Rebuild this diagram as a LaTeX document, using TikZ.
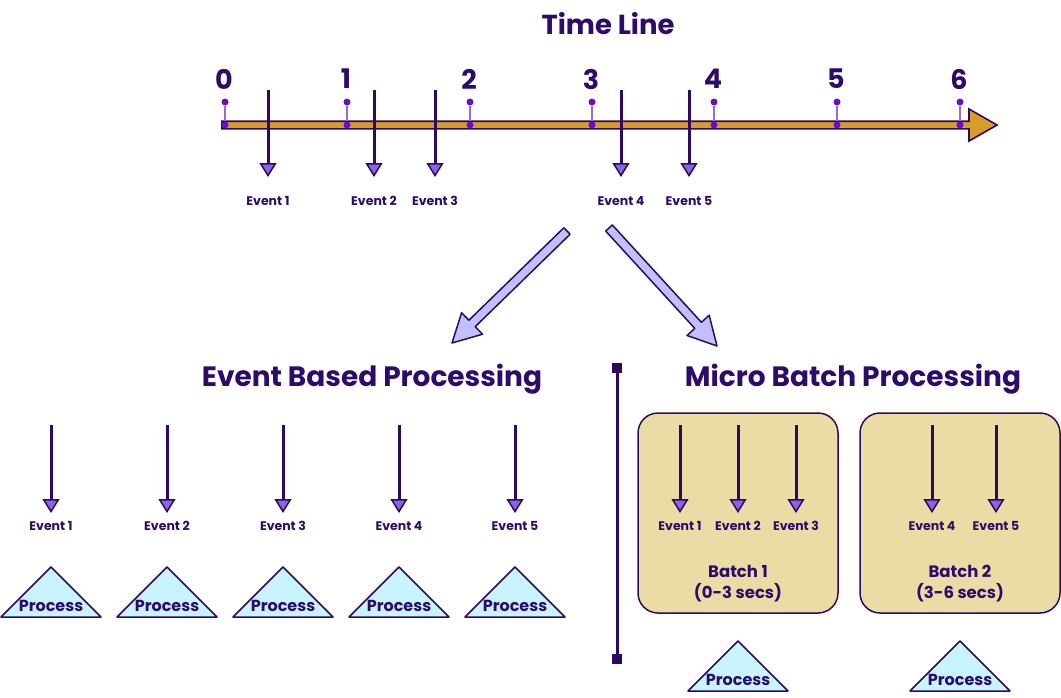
\documentclass[tikz,border=0pt]{standalone}
\usepackage{fontspec}
\setmainfont{Poppins}
\usetikzlibrary{arrows.meta,calc}
\definecolor{dk}{HTML}{2E0A5E}
\definecolor{txt}{HTML}{2D0B6B}
\definecolor{evp}{HTML}{8466E6}
\definecolor{dotc}{HTML}{6A0DC8}
\definecolor{stemc}{HTML}{9A6ADB}
\definecolor{barc}{HTML}{D89B2C}
\definecolor{lav}{HTML}{C0C0FF}
\definecolor{boxc}{HTML}{EBDBA4}
\definecolor{proc}{HTML}{C8F4FF}
\newcommand\fsz[1]{\fontsize{#1}{#1}\selectfont}
\tikzset{
  evarrow/.style={draw=dk, line width=3pt, -{Triangle[length=14pt,width=17pt,line width=1.5pt,fill=evp]}},
  evlabel/.style={font=\bfseries\fsz{12.5}, text=txt, inner sep=0pt},
  numlabel/.style={font=\bfseries\fsz{27}, text=txt, inner sep=0pt},
  heading/.style={font=\bfseries\fsz{28}, text=txt, inner sep=0pt},
  titletext/.style={font=\bfseries\fsz{27.5}, text=txt, inner sep=0pt},
  proctext/.style={font=\bfseries\fsz{16}, text=txt, inner sep=0pt},
  batchtext/.style={font=\bfseries\fsz{16.5}, text=txt, inner sep=0pt},
  tridraw/.style={draw=dk, line width=1.5pt, fill=proc, line join=round},
  batchbox/.style={draw=dk, line width=1.5pt, fill=boxc, rounded corners=20pt},
  tickdot/.style={circle, fill=dotc, inner sep=0pt, minimum size=7pt},
  tickstem/.style={draw=stemc, line width=1.3pt},
  bigarrow/.style={draw=dk, line width=1.5pt, fill=lav, line join=round},
  sq/.style={rectangle, fill=dk, inner sep=0pt, minimum size=10pt},
}
\newcommand\proctri[3]{%
  \draw[tridraw] (#2,#3) -- (#2+50,#3+50) -- (#2-50,#3+50) -- cycle;
  \node[proctext] (#1) at (#2,#3+39) {Process};}
\newcommand\fatarrow[2]{%
  \coordinate (fh) at ($(#2)!28pt!(#1)$);
  \draw[bigarrow] ($(#1)!4.5pt!90:(#2)$) -- ($(fh)!4.5pt!-90:(#1)$) -- ($(fh)!15pt!-90:(#1)$) -- (#2)
     -- ($(fh)!15pt!90:(#1)$) -- ($(fh)!4.5pt!90:(#1)$) -- ($(#1)!4.5pt!-90:(#2)$) -- cycle;}
\begin{document}
\begin{tikzpicture}[x=1pt,y=-1pt]
\useasboundingbox (0,0) rectangle (1061,697);
% title
\node[titletext] (title) at (608,24) {Time Line};
% time bar
\draw[draw=dk, line width=1.6pt, fill=barc, line join=miter]
  (222,121.2) -- (969,121.2) -- (969,109) -- (997,125) -- (969,141) -- (969,128.8) -- (222,128.8) -- cycle;
\foreach \n/\x in {0/225,1/347,2/470,3/592,4/714,5/837,6/960}{
  \node[tickdot] (t\n) at (\x,102) {};
  \node[tickdot] (b\n) at (\x,125) {};
  \draw[tickstem] (t\n) -- (b\n);
  \node[numlabel] (n\n) at (\x-1,79) {\n};
}
% timeline events
\foreach \i/\x in {1/268,2/374,3/435,4/621,5/689}{
  \coordinate (es\i) at (\x,90);
  \coordinate (ee\i) at (\x,177);
  \draw[evarrow] (es\i) -- (ee\i);
  \node[evlabel] (el\i) at (\x,201) {Event \i};
}
% big arrows
\coordinate (la1) at (567,231);
\coordinate (la2) at (452,343);
\coordinate (ra1) at (609,228);
\coordinate (ra2) at (717,346);
\fatarrow{la1}{la2}
\fatarrow{ra1}{ra2}
% headings
\node[heading] (hev) at (372,379) {Event Based Processing};
\node[heading] (hmb) at (853,379) {Micro Batch Processing};
% divider
\node[sq] (d1) at (617,368) {};
\node[sq] (d2) at (617,659) {};
\draw[dk, line width=3pt] (d1) -- (d2);
% event based
\foreach \i/\x in {1/51,2/167,3/283,4/399,5/515}{
  \coordinate (bs\i) at (\x,425);
  \coordinate (be\i) at (\x,513);
  \draw[evarrow] (bs\i) -- (be\i);
  \node[evlabel] (bl\i) at (\x,526) {Event \i};
  \proctri{bp\i}{\x}{567}
}
% micro batch boxes
\draw[batchbox] (638,413) rectangle (838,613);
\draw[batchbox] (860,413) rectangle (1060,613);
\foreach \i/\x in {1/680,2/738,3/796,4/932,5/996}{
  \coordinate (ms\i) at (\x,425);
  \coordinate (me\i) at (\x,513);
  \draw[evarrow] (ms\i) -- (me\i);
  \node[evlabel] (ml\i) at (\x,526) {Event \i};
}
\node[batchtext] (bt1) at (738,571) {Batch 1};
\node[batchtext] (bs1t) at (738,593) {(0-3 secs)};
\node[batchtext] (bt2) at (960,571) {Batch 2};
\node[batchtext] (bs2t) at (960,593) {(3-6 secs)};
\proctri{mp1}{738}{641}
\proctri{mp2}{960}{641}
\end{tikzpicture}
\end{document}
